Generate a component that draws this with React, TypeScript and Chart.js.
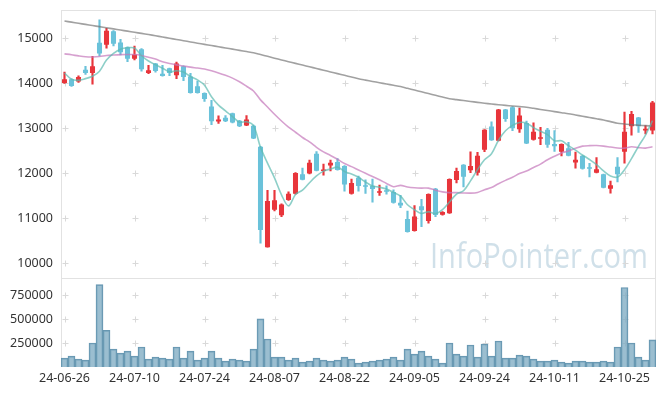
import React, { useEffect, useRef } from 'react';
import { Chart, registerables } from 'chart.js';

Chart.register(...registerables);

const dates = [
  '24-06-26','24-06-27','24-06-28','24-07-01','24-07-02','24-07-03','24-07-04','24-07-05','24-07-08','24-07-09',
  '24-07-10','24-07-11','24-07-12','24-07-15','24-07-16','24-07-17','24-07-18','24-07-19','24-07-22','24-07-23',
  '24-07-24','24-07-25','24-07-26','24-07-29','24-07-30','24-07-31','24-08-01','24-08-02','24-08-05','24-08-06',
  '24-08-07','24-08-08','24-08-09','24-08-12','24-08-13','24-08-14','24-08-16','24-08-19','24-08-20','24-08-21',
  '24-08-22','24-08-23','24-08-26','24-08-27','24-08-28','24-08-29','24-08-30','24-09-02','24-09-03','24-09-04',
  '24-09-05','24-09-06','24-09-09','24-09-10','24-09-11','24-09-12','24-09-13','24-09-19','24-09-20','24-09-23',
  '24-09-24','24-09-25','24-09-26','24-09-27','24-09-30','24-10-02','24-10-04','24-10-07','24-10-08','24-10-10',
  '24-10-11','24-10-14','24-10-15','24-10-16','24-10-17','24-10-18','24-10-21','24-10-22','24-10-23','24-10-24',
  '24-10-25','24-10-28','24-10-29','24-10-30','24-10-31',
];

const opens = [
  14010,14090,14040,14300,14230,14900,14860,15160,14910,14800,
  14545,14760,14230,14440,14215,14335,14180,14380,14155,13935,
  13785,13485,13150,13235,13335,13170,13065,13060,12590,10360,
  11190,11070,11410,11545,11980,11995,12435,12050,12175,12255,
  12165,11545,11905,11725,11725,11570,11620,11585,11345,10985,
  10720,11270,10940,11660,11080,11115,11850,12190,12070,12015,
  12525,13040,12725,13420,13470,12980,13120,12745,12770,12970,
  12650,12480,12560,12240,12390,12115,12015,11980,11660,12145,
  12480,13045,13240,12955,12955,
];

const highs = [
  14250,14100,14165,14380,14600,15410,15225,15170,14980,14810,
  14830,14770,14400,14445,14400,14340,14470,14390,14220,14050,
  13790,13620,13280,13285,13340,13180,13285,13070,12600,11620,
  11620,11320,11590,12015,12115,12295,12485,12205,12295,12330,
  12170,11870,11940,11855,11870,11740,11725,11635,11510,11160,
  11285,11420,11545,11665,11150,11880,12115,12195,12480,12465,
  12975,13145,13425,13425,13485,13450,13160,13120,13020,13000,
  12950,12655,12690,12470,12395,12220,12350,11985,11830,12350,
  13360,13380,13245,13060,13600,
];

const lows = [
  14000,13930,14020,14200,13980,14610,14780,14830,14630,14480,
  14520,14270,14215,14250,14160,14170,14105,14060,13780,13780,
  13600,13080,13110,13150,13120,13040,13060,12770,10450,10360,
  11165,11040,11400,11540,11855,11990,12055,11960,12055,12070,
  11605,11540,11605,11555,11360,11510,11535,11340,11235,10695,
  10715,10815,10895,11040,11070,11110,11790,11700,12015,11960,
  12480,12730,12720,13155,12950,12910,12660,12740,12635,12575,
  12485,12385,12385,12115,12095,11920,12010,11675,11560,11810,
  12225,12850,12910,12875,12875,
];

const closes = [
  14090,13940,14140,14230,14380,14665,15170,14880,14690,14545,
  14640,14315,14290,14275,14165,14230,14440,14140,13785,13785,
  13650,13160,13195,13160,13130,13045,13195,12775,10740,11385,
  11405,11310,11545,12010,11860,12235,12060,12085,12235,12075,
  11750,11785,11720,11700,11650,11600,11590,11345,11285,10695,
  11040,11180,11540,11075,11140,11875,12055,11925,12165,12390,
  12970,12735,13420,13210,13000,13285,12665,12925,12800,12635,
  12600,12650,12390,12300,12100,12100,12090,11680,11735,11980,
  12925,13320,13045,12990,13575,
];

const volumes = [
  92000,113000,82000,71000,250000,859000,382000,187000,145000,166000,
  113000,208000,82000,103000,92000,82000,208000,92000,166000,71000,
  92000,166000,92000,61000,82000,71000,61000,187000,502000,292000,
  103000,103000,71000,92000,50000,61000,92000,71000,61000,71000,
  103000,82000,40000,50000,61000,71000,82000,103000,71000,187000,
  134000,166000,113000,82000,40000,250000,134000,113000,229000,103000,
  240000,113000,271000,92000,92000,124000,113000,82000,61000,61000,
  71000,50000,40000,61000,61000,50000,50000,61000,50000,208000,
  828000,250000,103000,71000,282000,
];

const ma5 = [
  14230,14090,14067,14105,14156,14271,14517,14665,14757,14790,
  14785,14614,14496,14413,14337,14255,14280,14250,14152,14076,
  13960,13704,13515,13390,13259,13138,13145,13061,12577,12228,
  11900,11523,11277,11531,11626,11792,11942,12050,12095,12138,
  12041,11986,11913,11806,11721,11691,11652,11577,11494,11303,
  11191,11109,11148,11106,11195,11362,11537,11614,11832,12082,
  12301,12437,12736,12945,13067,13130,13116,13017,12935,12862,
  12725,12722,12615,12515,12408,12308,12196,12054,11941,11917,
  12082,12328,12601,12852,13171,
];

const ma20 = [
  14655,14635,14610,14590,14585,14595,14620,14630,14638,14642,
  14640,14620,14580,14540,14480,14440,14410,14385,14360,14340,
  14318,14279,14232,14178,14116,14035,13936,13831,13633,13475,
  13313,13163,13026,12913,12797,12698,12579,12476,12398,12313,
  12218,12149,12075,12002,11928,11856,11776,11704,11732,11697,
  11679,11672,11672,11625,11589,11571,11571,11563,11560,11575,
  11636,11684,11769,11844,11912,11996,12050,12129,12205,12302,
  12380,12453,12496,12557,12605,12616,12618,12606,12584,12564,
  12561,12591,12572,12561,12590,
];

const ma120 = [
  15385,15360,15335,15310,15285,15260,15235,15210,15185,15160,
  15135,15110,15085,15058,15030,15003,14975,14948,14920,14893,
  14866,14840,14813,14786,14760,14733,14706,14680,14640,14600,
  14560,14520,14482,14444,14406,14368,14330,14292,14254,14216,
  14178,14140,14102,14072,14043,14014,13985,13957,13930,13890,
  13851,13812,13773,13734,13695,13658,13638,13618,13598,13578,
  13558,13540,13525,13510,13496,13483,13470,13445,13420,13396,
  13372,13348,13325,13297,13269,13241,13213,13185,13150,13115,
  13097,13080,13070,13060,13050,
];

const priceTicks = [10000, 11000, 12000, 13000, 14000, 15000];
const volumeTicks = [250000, 500000, 750000];

const UP = '#e8353b';
const DOWN = '#6ac2da';
const FONT = { family: "'Noto Sans', 'DejaVu Sans', sans-serif", size: 12.5 };
const TEXT = '#333333';

const decorPlugin = {
  id: 'decor',
  beforeDatasetsDraw(chart: any) {
    const { ctx, chartArea, scales } = chart;
    const xs = scales.x;
    ctx.save();
    // watermark
    ctx.font = "34px 'Open Sans', 'Noto Sans', sans-serif";
    ctx.fillStyle = 'rgba(150,186,206,0.45)';
    ctx.textAlign = 'right';
    ctx.textBaseline = 'alphabetic';
    ctx.fillText('InfoPointer.com', 648, 268, 218);
    // crosses at grid intersections
    ctx.strokeStyle = '#d9d9d9';
    ctx.lineWidth = 1;
    for (const id of ['y', 'yv']) {
      const s = scales[id];
      for (const t of s.ticks) {
        const y = Math.round(s.getPixelForValue(t.value)) + 0.5;
        for (const xt of xs.ticks) {
          const x = Math.round(xs.getPixelForValue(xt.value)) + 0.5;
          ctx.beginPath();
          ctx.moveTo(x - 3, y);
          ctx.lineTo(x + 3, y);
          ctx.moveTo(x, y - 3);
          ctx.lineTo(x, y + 3);
          ctx.stroke();
        }
      }
    }
    // panel borders
    const sep = Math.round(scales.y.bottom) + 0.5;
    ctx.strokeStyle = '#e2e2e2';
    ctx.beginPath();
    ctx.moveTo(chartArea.left + 0.5, chartArea.top);
    ctx.lineTo(chartArea.left + 0.5, chartArea.bottom);
    ctx.moveTo(chartArea.left, chartArea.top + 0.5);
    ctx.lineTo(chartArea.right, chartArea.top + 0.5);
    ctx.moveTo(chartArea.right - 0.5, chartArea.top);
    ctx.lineTo(chartArea.right - 0.5, chartArea.bottom);
    ctx.moveTo(chartArea.left, sep);
    ctx.lineTo(chartArea.right, sep);
    ctx.stroke();
    ctx.restore();
  },
};

const noPad = (s: any) => {
  s.paddingTop = 0;
  s.paddingBottom = 0;
  s.paddingLeft = 0;
  s.paddingRight = 0;
};

export default function App() {
  const ref = useRef<HTMLCanvasElement>(null);

  useEffect(() => {
    const canvas = ref.current;
    if (!canvas) return;
    const colors = closes.map((c, i) => (c >= opens[i] ? UP : DOWN));
    const chart = new Chart(canvas, {
      type: 'bar',
      data: {
        labels: dates,
        datasets: [
          {
            type: 'line', label: 'MA5', data: ma5, yAxisID: 'y',
            borderColor: 'rgba(92,186,176,0.7)', borderWidth: 1.6, pointRadius: 0,
            tension: 0.35, order: 0,
          } as any,
          {
            type: 'line', label: 'MA20', data: ma20, yAxisID: 'y',
            borderColor: 'rgba(196,120,186,0.7)', borderWidth: 1.6, pointRadius: 0,
            tension: 0.3, order: 0,
          },
          {
            type: 'line', label: 'MA120', data: ma120, yAxisID: 'y',
            borderColor: 'rgba(110,110,110,0.65)', borderWidth: 1.6, pointRadius: 0,
            tension: 0.3, order: 0,
          },
          {
            type: 'bar', label: 'body', data: opens.map((o, i) => [o, closes[i]]), yAxisID: 'y',
            backgroundColor: colors, barPercentage: 0.72, categoryPercentage: 1,
            grouped: false, minBarLength: 1.5, order: 1,
          },
          {
            type: 'bar', label: 'wick', data: lows.map((l, i) => [l, highs[i]]), yAxisID: 'y',
            backgroundColor: colors, barThickness: 1.5, grouped: false, order: 2,
          },
          {
            type: 'bar', label: 'volume', data: volumes, yAxisID: 'yv',
            backgroundColor: 'rgba(122,168,192,0.75)', borderColor: 'rgba(86,140,168,0.9)',
            borderWidth: 1, barPercentage: 1, categoryPercentage: 1, grouped: false, order: 3,
          },
        ],
      },
      options: {
        animation: false,
        responsive: true,
        maintainAspectRatio: false,
        layout: { padding: { top: 10, right: 9, left: 0, bottom: 0 } },
        plugins: { legend: { display: false }, tooltip: { enabled: false } },
        scales: {
          x: {
            type: 'category', offset: true,
            grid: { display: false, drawTicks: false }, border: { display: false },
            ticks: { autoSkip: false, maxRotation: 0, padding: 4, font: FONT, color: TEXT },
            afterBuildTicks: (s: any) => { s.ticks = s.ticks.filter((t: any) => t.value % 10 === 0); },
            afterFit: (s: any) => { s.height = 29; noPad(s); },
          },
          y: {
            type: 'linear', position: 'left', stack: 'panels', stackWeight: 3, weight: 2,
            min: 9680, max: 15630,
            grid: { display: false, drawTicks: false }, border: { display: false },
            ticks: { padding: 8, font: FONT, color: TEXT, callback: (v: any) => String(v) },
            afterBuildTicks: (s: any) => { s.ticks = priceTicks.map((v) => ({ value: v })); },
            afterFit: (s: any) => { s.width = 61; noPad(s); },
          },
          yv: {
            type: 'linear', position: 'left', stack: 'panels', stackWeight: 1, weight: 1,
            min: 0, max: 930000,
            grid: { display: false, drawTicks: false }, border: { display: false },
            ticks: { padding: 8, font: FONT, color: TEXT, callback: (v: any) => String(v) },
            afterBuildTicks: (s: any) => { s.ticks = volumeTicks.map((v) => ({ value: v })); },
            afterFit: (s: any) => { s.width = 61; noPad(s); },
          },
        } as any,
      },
      plugins: [decorPlugin],
    });
    return () => chart.destroy();
  }, []);

  return (
    <div style={{ position: 'absolute', left: 0, top: 0, width: 665, height: 396 }}>
      <canvas ref={ref} />
    </div>
  );
}
